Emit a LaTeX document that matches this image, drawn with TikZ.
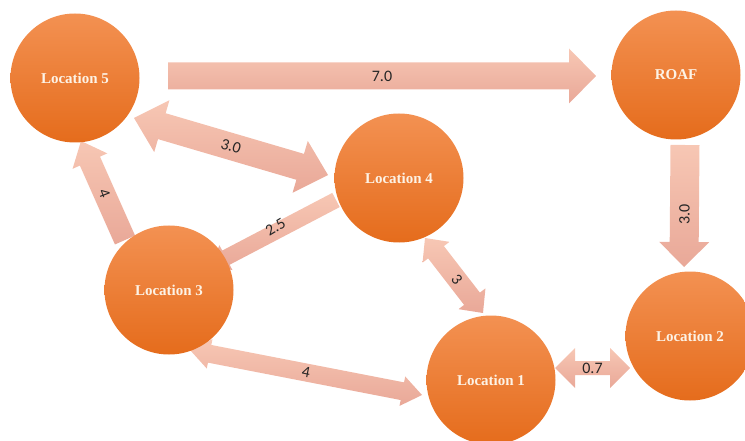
\documentclass[tikz,border=0pt]{standalone}
\usepackage{fontspec}
\setmainfont{Liberation Serif}
\newfontfamily\lblfont{Carlito}
\usetikzlibrary{calc}

\definecolor{locTop}{RGB}{243,145,82}
\definecolor{locBot}{RGB}{229,108,28}
\definecolor{locText}{RGB}{253,243,230}
\definecolor{arrTop}{RGB}{247,199,180}
\definecolor{arrBot}{RGB}{233,168,152}

\tikzset{
  loc/.style={circle, minimum size=129pt, inner sep=0pt,
    top color=locTop, bottom color=locBot, text=locText,
    font=\fontsize{15}{18}\selectfont\bfseries},
  flow/.style={top color=arrTop, bottom color=arrBot},
  lbl/.style={font=\lblfont\fontsize{16}{18}\selectfont, text=black!85, inner sep=0pt},
}

% block arrow with one head: from, to, half shaft, half head, head length
\newcommand\onearrow[5]{%
  \coordinate (hb) at ($(#2)!#5!(#1)$);
  \path[flow] ($(#1)!#3!90:(#2)$) -- ($(hb)!#3!-90:(#1)$) -- ($(hb)!#4!-90:(#1)$)
    -- (#2) -- ($(hb)!#4!90:(#1)$) -- ($(hb)!#3!90:(#1)$) -- ($(#1)!#3!-90:(#2)$) -- cycle;}

% block arrow with two heads
\newcommand\twoarrow[5]{%
  \coordinate (ha) at ($(#1)!#5!(#2)$);
  \coordinate (hb) at ($(#2)!#5!(#1)$);
  \path[flow] (#1) -- ($(ha)!#4!90:(#2)$) -- ($(ha)!#3!90:(#2)$)
    -- ($(hb)!#3!-90:(#1)$) -- ($(hb)!#4!-90:(#1)$) -- (#2)
    -- ($(hb)!#4!90:(#1)$) -- ($(hb)!#3!90:(#1)$)
    -- ($(ha)!#3!-90:(#2)$) -- ($(ha)!#4!-90:(#2)$) -- cycle;}

\begin{document}
\begin{tikzpicture}[x=1pt, y=-1pt]
\useasboundingbox (0,0) rectangle (745,441);

% node centres (placed first so the arrow ends can refer to them)
\coordinate (c5) at (75,78);
\coordinate (cR) at (676,75);
\coordinate (c4) at (399,178);
\coordinate (c3) at (169,290);
\coordinate (c1) at (491,380);
\coordinate (c2) at (690,336);

% arrow end points, relative to the locations
\coordinate (a7s)  at ($(c5)+(93,-2)$);
\coordinate (a7e)  at ($(cR)+(-80,1)$);
\coordinate (a54s) at ($(c5)+(59,40)$);
\coordinate (a54e) at ($(c4)+(-71,-3)$);
\coordinate (a35s) at ($(c3)+(-44,-50)$);
\coordinate (a35e) at ($(c5)+(6,63)$);
\coordinate (a43s) at ($(c4)+(-63,22)$);
\coordinate (a43e) at ($(c3)+(41,-24)$);
\coordinate (a41s) at ($(c4)+(26,60)$);
\coordinate (a41e) at ($(c1)+(-8,-67)$);
\coordinate (a31s) at ($(c3)+(21,60)$);
\coordinate (a31e) at ($(c1)+(-69,15)$);
\coordinate (a12s) at ($(c1)+(64,-12)$);
\coordinate (a12e) at ($(c2)+(-60,32)$);
\coordinate (aR2s) at ($(cR)+(9,70)$);
\coordinate (aR2e) at ($(c2)+(-6,-69)$);

% flows
\onearrow{a7s}{a7e}{13.5pt}{27.5pt}{27pt}
\twoarrow{a54s}{a54e}{13.5pt}{27pt}{29pt}
\onearrow{a35s}{a35e}{11pt}{19pt}{22pt}
\onearrow{a43s}{a43e}{8pt}{14pt}{18pt}
\twoarrow{a41s}{a41e}{10pt}{17pt}{18pt}
\twoarrow{a31s}{a31e}{9pt}{15pt}{20pt}
\twoarrow{a12s}{a12e}{7pt}{20pt}{20pt}
\onearrow{aR2s}{aR2e}{14.5pt}{25pt}{25pt}

% flow values
\node[lbl] (v7)  at ($(a7s)!0.5!(a7e)$) {7.0};
\node[lbl, rotate=-17] (v54) at ($(a54s)!0.5!(a54e)$) {3.0};
\node[lbl, rotate=-69] (v35) at ($(a35s)!0.47!(a35e)$) {4};
\node[lbl, rotate=31] (v43) at ($(a43s)!0.48!(a43e)+(0,-5)$) {2.5};
\node[lbl, rotate=-52] (v41) at ($(a41s)!0.55!(a41e)$) {3};
\node[lbl, rotate=-11] (v31) at ($(a31s)!0.5!(a31e)$) {4};
\node[lbl] (v12) at ($(a12s)!0.5!(a12e)$) {0.7};
\node[lbl, rotate=90] (vR2) at ($(aR2s)!0.57!(aR2e)$) {3.0};

% locations
\node[loc] (L5) at (c5) {Location 5};
\node[loc] (RO) at (cR) {ROAF};
\node[loc] (L4) at (c4) {Location 4};
\node[loc] (L3) at (c3) {Location 3};
\node[loc] (L1) at (c1) {Location 1};
\node[loc] (L2) at (c2) {Location 2};
\end{tikzpicture}
\end{document}
